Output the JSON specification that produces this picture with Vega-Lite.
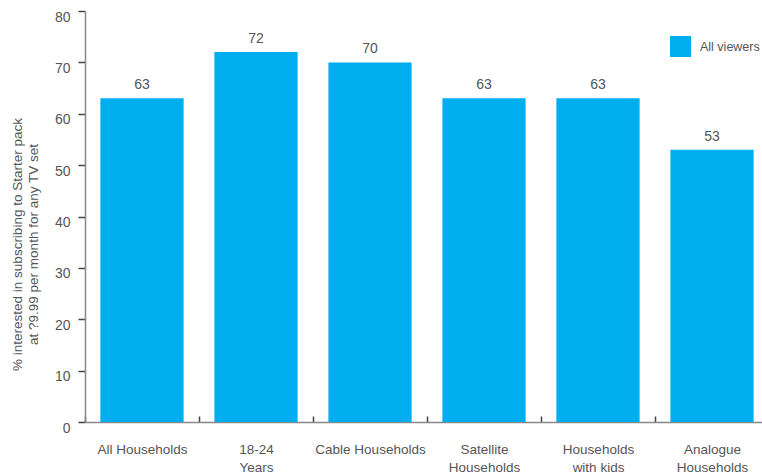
{
  "$schema": "https://vega.github.io/schema/vega-lite/v6.json",
  "autosize": "none",
  "width": 677,
  "height": 411,
  "padding": {"left": 85, "top": 11, "right": 0, "bottom": 54},
  "background": "white",
  "config": {
    "view": {"stroke": null},
    "font": "Liberation Sans"
  },
  "data": {
    "values": [
      {"category": "All Households", "value": 63, "series": "All viewers"},
      {"category": "18-24|Years", "value": 72, "series": "All viewers"},
      {"category": "Cable Households", "value": 70, "series": "All viewers"},
      {"category": "Satellite|Households", "value": 63, "series": "All viewers"},
      {"category": "Households|with kids", "value": 63, "series": "All viewers"},
      {"category": "Analogue|Households", "value": 53, "series": "All viewers"}
    ]
  },
  "encoding": {
    "x": {
      "field": "category",
      "type": "nominal",
      "sort": null,
      "scale": {"paddingInner": 0, "paddingOuter": 0, "range": [0, 684]},
      "axis": {
        "title": null,
        "labelAngle": 0,
        "labelExpr": "split(datum.label, '|')",
        "labelFontSize": 13.5,
        "labelColor": "#555555",
        "labelPadding": 26,
        "labelLineHeight": 18,
        "labelBaseline": "top",
        "tickBand": "extent",
        "tickSize": -6,
        "tickColor": "#444444",
        "tickWidth": 1.5,
        "domainColor": "#888888",
        "domainWidth": 1.5,
        "grid": false
      }
    },
    "y": {
      "field": "value",
      "type": "quantitative",
      "scale": {"domain": [0, 80], "nice": false},
      "axis": {
        "values": [0, 10, 20, 30, 40, 50, 60, 70, 80],
        "title": ["% interested in subscribing to Starter pack", "at ?9.99 per month for any TV set"],
        "titleFontSize": 13.5,
        "titleFontWeight": "normal",
        "titleColor": "#555555",
        "titleLineHeight": 16,
        "titlePadding": 14,
        "titleY": 233,
        "labelFontSize": 14,
        "labelColor": "#555555",
        "labelPadding": 8,
        "labelOffset": 6,
        "tickSize": 7,
        "tickColor": "#444444",
        "tickWidth": 1.5,
        "domainColor": "#888888",
        "domainWidth": 1.5,
        "grid": false
      }
    }
  },
  "layer": [
    {
      "mark": {"type": "bar", "width": {"band": 0.73}},
      "encoding": {
        "color": {
          "field": "series",
          "type": "nominal",
          "scale": {"range": ["#00ADEF"]},
          "legend": {
            "title": null,
            "orient": "none",
            "legendX": 585,
            "legendY": 25,
            "symbolType": "square",
            "symbolSize": 441,
            "symbolStrokeWidth": 0,
            "symbolOpacity": 1,
            "labelFontSize": 12.5,
            "labelColor": "#555555",
            "labelOffset": 9
          }
        }
      }
    },
    {
      "mark": {"type": "text", "baseline": "bottom", "dy": -6, "fontSize": 14, "color": "#555555"},
      "encoding": {
        "text": {"field": "value", "type": "quantitative"}
      }
    }
  ]
}
